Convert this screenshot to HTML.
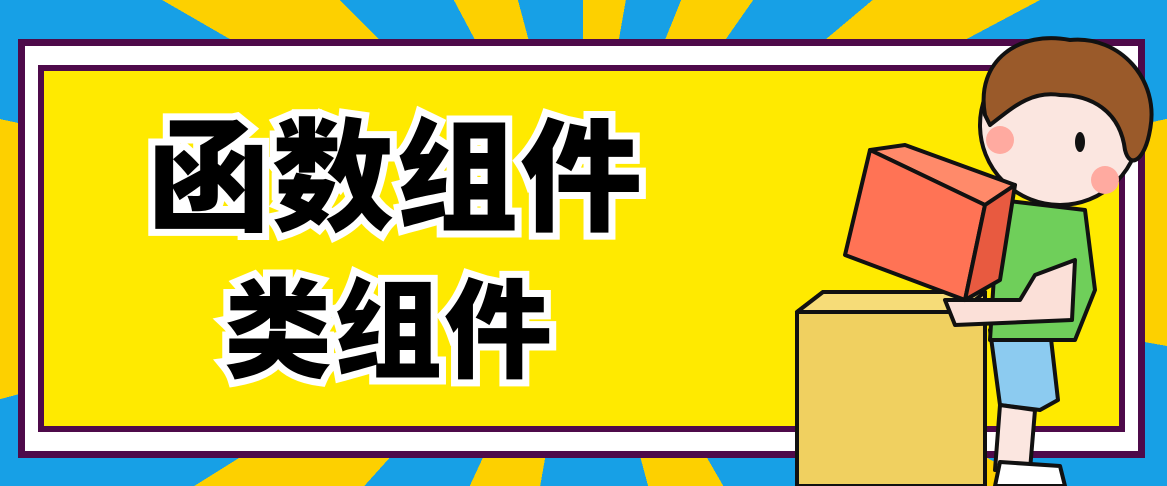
<!DOCTYPE html>
<html><head><meta charset="utf-8"><style>
html,body{margin:0;padding:0}
body{width:1167px;height:486px;overflow:hidden;position:relative;
background:conic-gradient(from 0deg at 583px 243px,#fdd000 0 10deg,#17a0e6 10deg 22deg,#fdd000 22deg 35deg,#17a0e6 35deg 50deg,#fdd000 50deg 62deg,#17a0e6 62deg 78deg,#fdd000 78deg 100deg,#17a0e6 100deg 118deg,#fdd000 118deg 132deg,#17a0e6 132deg 150deg,#fdd000 150deg 165deg,#17a0e6 165deg 190deg,#fdd000 190deg 205deg,#17a0e6 205deg 222deg,#fdd000 222deg 238deg,#17a0e6 238deg 255deg,#fdd000 255deg 282deg,#17a0e6 282deg 300deg,#fdd000 300deg 315deg,#17a0e6 315deg 332deg,#fdd000 332deg 345deg,#17a0e6 345deg 360deg);}
.outer{position:absolute;left:18px;top:39px;width:1113px;height:405px;background:#fff;border:7px solid #4e0a4a}
.inner{position:absolute;left:38px;top:65px;width:1075px;height:355px;background:#ffea00;border:6px solid #4e0a4a}
.t{position:absolute;font-family:"Liberation Sans","Noto Sans CJK SC",sans-serif;font-weight:900;color:#000;letter-spacing:2px}
.t span{-webkit-text-stroke:14px #fff;paint-order:stroke fill}
</style></head><body>
<div class="outer"></div>
<div class="inner"></div>
<div class="t" style="left:148px;top:104px;font-size:122px;line-height:150px"><span>函数组件</span></div>
<div class="t" style="left:224px;top:262px;font-size:108px;line-height:140px"><span>类组件</span></div>
<svg width="1167" height="486" style="position:absolute;left:0;top:0">
 <g stroke="#111" stroke-width="4" stroke-linejoin="round">
  <polygon points="797,312 823,292 985,292 985,486 797,486" fill="#f0d060"/>
  <polygon points="797,312 960,312 985,292 823,292" fill="#f6dc78"/>
  <path d="M990,330 L1050,330 L1058,400 L1040,410 L1000,405 Z" fill="#8ccbf0"/>
  <path d="M1000,405 L995,470 L1030,470 L1035,410 Z" fill="#fbe6e0"/>
  <path d="M1000,462 L1060,466 L1065,486 L995,486 Z" fill="#fff"/>
  <path d="M1000,200 L1085,210 L1095,290 L1075,340 L990,340 L995,260 Z" fill="#6fcf5a"/>
  <path d="M1035,275 L1075,260 L1072,320 L955,325 L945,300 L1020,300 Z" fill="#fbe0d8"/>
  <circle cx="1060" cy="125" r="80" fill="#fbe6e0"/>
  <path d="M985,115 C975,60 1020,30 1070,40 C1120,35 1160,80 1150,130 C1145,160 1130,170 1125,150 C1120,110 1090,95 1060,95 C1030,90 1010,110 990,125 Z" fill="#9a5a2a"/>
  <polygon points="870,150 905,145 1015,185 985,205" fill="#ff8a6a"/>
  <polygon points="870,150 985,205 965,300 845,255" fill="#ff7355"/>
  <polygon points="985,205 1015,185 1000,280 965,300" fill="#e85a40"/>
 </g>
 <circle cx="1000" cy="140" r="14" fill="#ffaaa0"/>
 <circle cx="1105" cy="180" r="14" fill="#ffaaa0"/>
 <ellipse cx="1080" cy="142" rx="5" ry="10" fill="#111"/>
</svg>
</body></html>
